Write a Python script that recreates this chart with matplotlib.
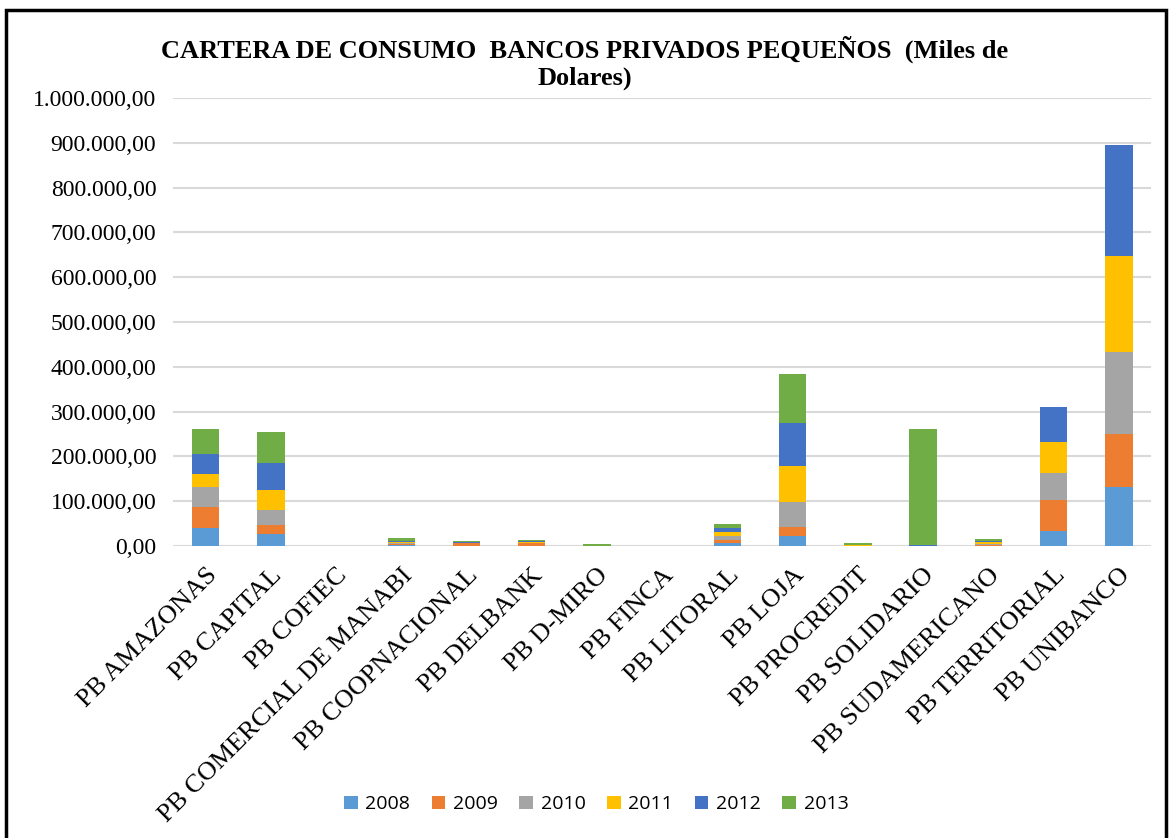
import matplotlib.pyplot as plt
import numpy as np
from matplotlib.patches import Rectangle

bancos = ['PB AMAZONAS', 'PB CAPITAL', 'PB COFIEC', 'PB COMERCIAL DE MANABI',
          'PB COOPNACIONAL', 'PB DELBANK', 'PB D-MIRO', 'PB FINCA', 'PB LITORAL',
          'PB LOJA', 'PB PROCREDIT', 'PB SOLIDARIO', 'PB SUDAMERICANO',
          'PB TERRITORIAL', 'PB UNIBANCO']
anios = ['2008', '2009', '2010', '2011', '2012', '2013']

# miles de dolares
v2008 = [41000, 27000, 0, 2000, 1000, 1000, 0, 0, 6000, 22000, 0, 0, 1000, 33000, 131000]
v2009 = [46000, 19000, 0, 2000, 6000, 5000, 0, 0, 8000, 21000, 0, 0, 2000, 69000, 119000]
v2010 = [44000, 34000, 0, 3000, 0, 1000, 0, 0, 9000, 56000, 0, 0, 2000, 61000, 183000]
v2011 = [30000, 44000, 0, 2000, 0, 1000, 0, 0, 9000, 80000, 2000, 0, 4000, 69000, 214000]
v2012 = [45000, 62000, 0, 3000, 1000, 3000, 0, 0, 9000, 96000, 0, 3000, 3000, 78000, 248000]
v2013 = [56000, 68000, 0, 6000, 4000, 3000, 4000, 0, 8000, 109000, 5000, 259000, 4000, 0, 0]

series = [v2008, v2009, v2010, v2011, v2012, v2013]
colores = ['#5B9BD5', '#ED7D31', '#A5A5A5', '#FFC000', '#4472C4', '#70AD47']

fig = plt.figure(figsize=(11.69, 8.38), dpi=100)
ax = fig.add_axes([0.148, 0.3484, 0.837, 0.5346])

x = np.arange(len(bancos))
base = np.zeros(len(bancos))
for nombre, vals, c in zip(anios, series, colores):
    ax.bar(x, vals, 0.42, bottom=base, color=c, label=nombre, zorder=3)
    base += np.array(vals)

ax.set_ylim(0, 1000000)
ax.set_xlim(-0.5, len(bancos) - 0.5)
ax.set_yticks(np.arange(0, 1000001, 100000))
ax.set_yticklabels(['{:,.2f}'.format(v).replace(',', 'X').replace('.', ',').replace('X', '.')
                    for v in np.arange(0, 1000001, 100000)],
                   family='Liberation Serif', fontsize=17)
ax.set_xticks(x)
ax.set_xticklabels(bancos, rotation=45, ha='right', va='top', rotation_mode='anchor',
                   family='Liberation Serif', fontsize=19)
ax.tick_params(length=0, pad=12)
ax.tick_params(axis='x', pad=13)
ax.grid(axis='y', color='#d9d9d9', linewidth=1.5, zorder=0)
for s in ax.spines.values():
    s.set_visible(False)

fig.text(0.5, 0.957, 'CARTERA DE CONSUMO  BANCOS PRIVADOS PEQUEÑOS  (Miles de\nDolares)',
         ha='center', va='top', family='Liberation Serif', fontweight='bold',
         fontsize=19, linespacing=1.15)

fig.legend(loc='center', bbox_to_anchor=(0.51, 0.04), ncol=6, frameon=False,
           prop={'family': 'Open Sans', 'size': 14}, handlelength=0.7, handleheight=0.7,
           columnspacing=1.1, handletextpad=0.4)

fig.patches.append(Rectangle((6 / 1169, -0.05), 1160 / 1169, 1 - 10 / 838 + 0.05,
                             transform=fig.transFigure, fill=False, edgecolor='black',
                             linewidth=2.5))

fig.savefig('out.png', dpi=100)
